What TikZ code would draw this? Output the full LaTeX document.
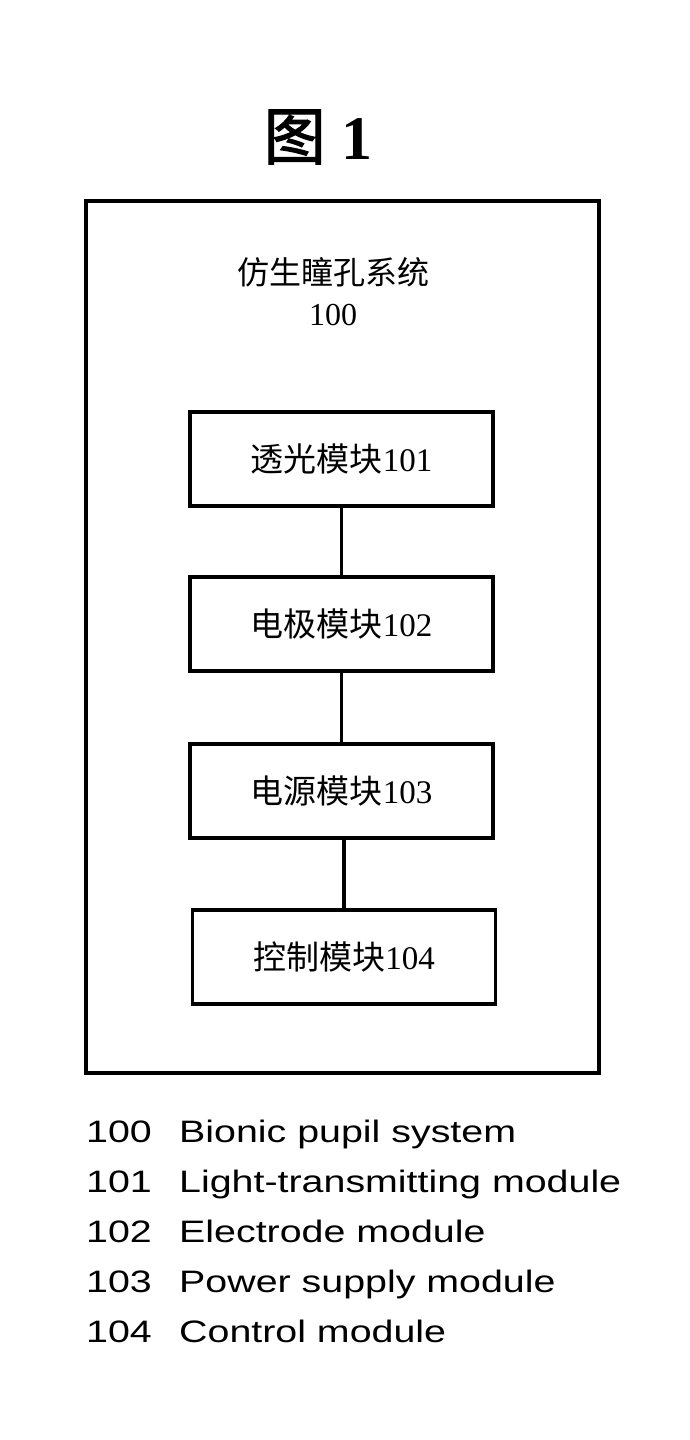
\documentclass[tikz,border=0pt]{standalone}
\usepackage{fontspec}
\setmainfont{Liberation Serif}
\newfontfamily\cjk{Noto Sans CJK SC}
\newfontfamily\cjktitle[FakeBold=2]{Noto Sans CJK SC}
\newfontfamily\arialwide[FakeStretch=1.27]{Liberation Sans}
\begin{document}
\begin{tikzpicture}[x=1pt,y=-1pt,
  modbox/.style={draw,line width=3.5pt,minimum width=303pt,minimum height=94pt,inner sep=0pt,font=\fontsize{33}{36}\selectfont},
  link/.style={line width=3.5pt},
  legend/.style={anchor=base west,inner sep=0pt,font=\arialwide\fontsize{31}{36}\selectfont}]
\useasboundingbox (0,0) rectangle (689,1440);
\node (title) at (318,137) {\fontsize{62}{70}\selectfont{\cjktitle 图}\hspace{0.25em}\textbf{1}};
\draw[line width=3.5pt] (86,201) rectangle (599,1073);
\node[align=center,font=\fontsize{32}{41}\selectfont] (sys) at (333,292) {{\cjk 仿生瞳孔系统}\\100};
\node[modbox] (m1) at (341.5,459) {{\cjk 透光模块}101};
\node[modbox] (m2) at (341.5,624) {{\cjk 电极模块}102};
\node[modbox] (m3) at (341.5,791) {{\cjk 电源模块}103};
\node[modbox] (m4) at (344,957) {{\cjk 控制模块}104};
\draw[link] (m1.south) -- (m2.north);
\draw[link] (m2.south) -- (m3.north);
\draw[link] (m3.south -| m4.north) -- (m4.north);
\node[legend] (n0) at (86,1142) {100};
\node[legend] (t0) at (179,1142) {Bionic pupil system};
\node[legend] (n1) at (86,1192) {101};
\node[legend] (t1) at (179,1192) {Light-transmitting module};
\node[legend] (n2) at (86,1242) {102};
\node[legend] (t2) at (179,1242) {Electrode module};
\node[legend] (n3) at (86,1292) {103};
\node[legend] (t3) at (179,1292) {Power supply module};
\node[legend] (n4) at (86,1342) {104};
\node[legend] (t4) at (179,1342) {Control module};
\end{tikzpicture}
\end{document}
